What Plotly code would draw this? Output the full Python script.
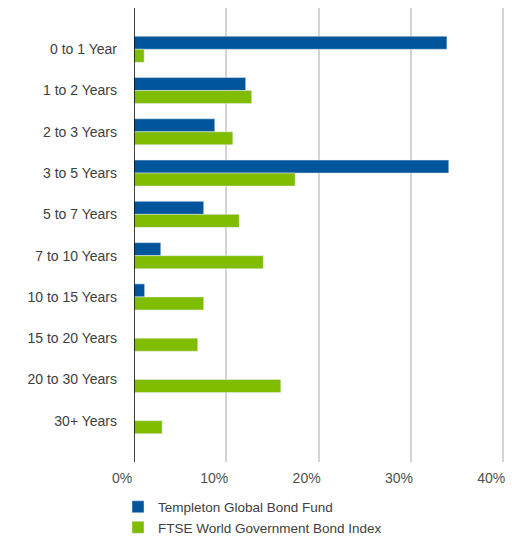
import plotly.graph_objects as go

categories = ["0 to 1 Year", "1 to 2 Years", "2 to 3 Years", "3 to 5 Years", "5 to 7 Years",
              "7 to 10 Years", "10 to 15 Years", "15 to 20 Years", "20 to 30 Years", "30+ Years"]
fund_values = [33.9, 12.1, 8.75, 34.1, 7.55, 2.9, 1.15, 0, 0, 0]
index_values = [1.1, 12.75, 10.7, 17.45, 11.4, 14.0, 7.55, 6.9, 15.9, 3.05]
x_ticks = [0, 10, 20, 30, 40]
x_tick_labels = ["0%", "10%", "20%", "30%", "40%"]

fig = go.Figure()
fig.add_trace(go.Bar(y=categories, x=fund_values, orientation="h",
                     name="Templeton Global Bond Fund", marker_color="#00559b"))
fig.add_trace(go.Bar(y=categories, x=index_values, orientation="h",
                     name="FTSE World Government Bond Index", marker_color="#80bc00"))

fig.update_layout(
    width=512, height=536,
    margin=dict(l=134, r=6, t=8, b=74),
    barmode="group", bargap=0.37, bargroupgap=0,
    plot_bgcolor="white", paper_bgcolor="white",
    font=dict(family="Liberation Sans, Arial, sans-serif", size=14, color="#404040"),
    xaxis=dict(range=[0, 40.3], tickvals=x_ticks, ticktext=x_tick_labels,
               showgrid=True, gridcolor="#d4d4d4", gridwidth=1.5,
               zeroline=False, showline=False, ticks="", ticklabelstandoff=6,
               ticklabelshift=-12,
               tickfont=dict(size=14, color="#505050")),
    yaxis=dict(categoryorder="array", categoryarray=categories, range=[10, -1],
               showgrid=False, zeroline=False, ticks="", ticklabelstandoff=16,
               tickfont=dict(size=14, color="#404040")),
    legend=dict(orientation="v", x=-0.043, xanchor="left",
                yref="container", y=0.083, yanchor="top",
                font=dict(size=13.5, color="#404040"), tracegroupgap=0,
                bgcolor="rgba(0,0,0,0)"),
    showlegend=True,
)
fig.add_shape(type="line", xref="x", yref="paper", x0=0, x1=0, y0=0, y1=1,
              line=dict(color="#000000", width=1.5))

fig.write_html("out.html")
